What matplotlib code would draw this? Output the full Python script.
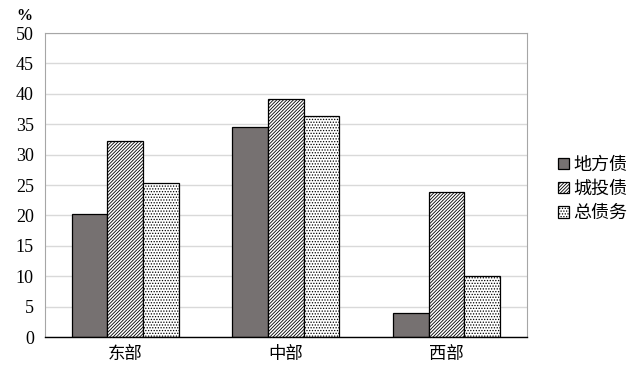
import numpy as np
import matplotlib.pyplot as plt

plt.rcParams['font.family'] = ['Liberation Serif', 'Noto Sans CJK SC']
plt.rcParams['hatch.linewidth'] = 0.6

regions = ['东部', '中部', '西部']
series = ['地方债', '城投债', '总债务']
difang = [20.3, 34.6, 4.0]
chengtou = [32.2, 39.1, 23.9]
zongzhaiwu = [25.3, 36.4, 10.0]
values = [difang, chengtou, zongzhaiwu]

colors = ['#767171', 'white', 'white']
hatches = [None, '//////////', '......']

fig = plt.figure(figsize=(6.4, 3.82), dpi=100)
ax = fig.add_axes([0.0703, 0.1178, 0.7531, 0.7958])

x = np.arange(len(regions))
w = 0.222
for i, (name, vals) in enumerate(zip(series, values)):
    ax.bar(x + (i - 1) * w, vals, w, color=colors[i], hatch=hatches[i],
           edgecolor='black', linewidth=0.9, label=name, zorder=3)

ax.set_xlim(-0.5, 2.5)
ax.set_ylim(0, 50)
ax.set_yticks(range(0, 51, 5))
ax.set_xticks(x)
ax.set_xticklabels(regions, family=['Noto Sans CJK SC'], fontsize=12.5)
ax.tick_params(axis='y', labelsize=13, length=0, pad=8)
ax.tick_params(axis='x', length=0, pad=6)
ax.grid(axis='y', color='#d9d9d9', linewidth=1, zorder=0)
for s in ['left', 'top', 'right']:
    ax.spines[s].set_color('#a6a6a6')
    ax.spines[s].set_linewidth(0.8)
ax.spines['bottom'].set_color('black')
ax.spines['bottom'].set_linewidth(1)
ax.spines['bottom'].set_zorder(4)

fig.text(0.026, 0.948, '%', fontsize=11.5, fontweight='bold')

leg = fig.legend(loc='upper left', bbox_to_anchor=(0.846, 0.635), frameon=False,
                 prop={'family': 'Noto Sans CJK SC', 'size': 13},
                 handlelength=0.6, handleheight=0.6, handletextpad=0.25,
                 labelspacing=0.35)

fig.savefig('out.png', dpi=100)
